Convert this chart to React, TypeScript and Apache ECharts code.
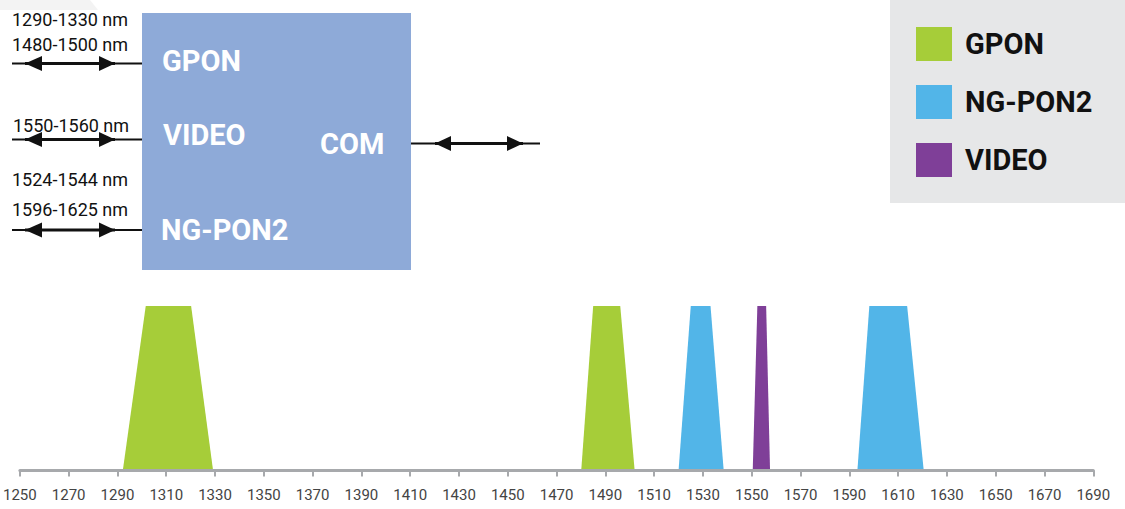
import React, { useEffect, useRef } from "react";
import * as echarts from "echarts";

// ---- data ----
const axisMin = 1250;
const axisMax = 1690;
const axisStep = 20;
// each band: [bottom-left, top-left, top-right, bottom-right] wavelength in nm
const gponBands = [
  [1292.2, 1301.6, 1320.2, 1329.2],
  [1480.1, 1485.0, 1496.1, 1502.0],
];
const ngpon2Bands = [
  [1520.0, 1525.0, 1533.1, 1538.5],
  [1593.3, 1598.2, 1613.7, 1620.5],
];
const videoBands = [[1550.4, 1552.3, 1555.9, 1557.5]];
const seriesNames = ["GPON", "NG-PON2", "VIDEO"];
const seriesColors = ["#a6cd39", "#52b5e8", "#7f3f98"];
const boxLabels = ["GPON", "VIDEO", "COM", "NG-PON2"];
const rangeLabels = ["1290-1330 nm", "1480-1500 nm", "1550-1560 nm", "1524-1544 nm", "1596-1625 nm"];

const renderBand = (params: any, api: any) => {
  const pts = [
    api.coord([api.value(0), 0]),
    api.coord([api.value(1), 1]),
    api.coord([api.value(2), 1]),
    api.coord([api.value(3), 0]),
  ];
  return {
    type: "polygon",
    shape: { points: pts },
    style: { fill: api.visual("color") },
  };
};

function arrowGroup(x0: number, x1: number, y: number, lt: number, lb: number, rb: number, rt: number) {
  const h = 7.5;
  return [
    { type: "line", shape: { x1: x0, y1: y, x2: x1, y2: y }, style: { stroke: "#111", lineWidth: 2 } },
    { type: "line", shape: { x1: lt, y1: y, x2: rt, y2: y }, style: { stroke: "#111", lineWidth: 3 } },
    { type: "polygon", shape: { points: [[lt, y], [lb, y - h], [lb, y + h]] }, style: { fill: "#111" } },
    { type: "polygon", shape: { points: [[rt, y], [rb, y - h], [rb, y + h]] }, style: { fill: "#111" } },
  ];
}

export default function App() {
  const ref = useRef<HTMLDivElement>(null);
  useEffect(() => {
    if (!ref.current) return;
    const chart = echarts.init(ref.current, null, { renderer: "svg" });
    const bandSets = [gponBands, ngpon2Bands, videoBands];
    const boxText = (text: string, x: number, y: number) => ({
      type: "text",
      x,
      y,
      style: {
        text,
        fill: "#ffffff",
        font: "bold 29px Roboto",
        textVerticalAlign: "middle",
      },
    });
    const rangeText = (text: string, x: number, y: number) => ({
      type: "text",
      x,
      y,
      style: {
        text,
        fill: "#111111",
        font: "18px Roboto",
        textVerticalAlign: "middle",
      },
    });
    chart.setOption({
      animation: false,
      grid: { left: 17.3, right: 31.7, top: 306, bottom: 38.5 },
      xAxis: {
        type: "value",
        min: axisMin,
        max: axisMax,
        interval: axisStep,
        z: 5,
        axisLine: { show: true, lineStyle: { color: "#a7a9ac", width: 3 } },
        axisTick: { show: true, length: 6, lineStyle: { color: "#a7a9ac", width: 2 } },
        splitLine: { show: false },
        axisLabel: {
          color: "#444444",
          fontSize: 15,
          fontFamily: "'Liberation Sans Narrow', Roboto",
          margin: 17,
          formatter: (v: number) => String(v),
        },
      },
      yAxis: { type: "value", min: 0, max: 1, show: false },
      legend: {
        orient: "vertical",
        left: 916,
        top: 27,
        padding: 0,
        itemWidth: 36,
        itemHeight: 34,
        itemGap: 24,
        icon: "rect",
        data: seriesNames,
        selectedMode: false,
        textStyle: {
          fontSize: 29,
          fontWeight: "bold",
          fontFamily: "Roboto",
          color: "#111111",
          padding: [0, 0, 0, 8],
        },
      },
      graphic: [
        { type: "polygon", z: -10, shape: { points: [[0, 0], [90, 0], [98, 10], [0, 10]] }, style: { fill: "#f3f3f3" } },
        { type: "rect", z: -10, shape: { x: 890, y: 0, width: 235, height: 203 }, style: { fill: "#e6e7e8" } },
        { type: "rect", shape: { x: 142, y: 13, width: 269, height: 257 }, style: { fill: "#8eaad8" } },
        boxText(boxLabels[0], 162, 61),
        boxText(boxLabels[1], 163, 135),
        boxText(boxLabels[2], 320, 144),
        boxText(boxLabels[3], 161, 230),
        rangeText(rangeLabels[0], 12, 19),
        rangeText(rangeLabels[1], 12, 44.5),
        rangeText(rangeLabels[2], 13, 125),
        rangeText(rangeLabels[3], 12, 179),
        rangeText(rangeLabels[4], 12, 209),
        ...arrowGroup(12, 142, 63.5, 25, 42, 99, 115),
        ...arrowGroup(12, 142, 139.5, 25, 42, 99, 115),
        ...arrowGroup(12, 142, 230, 25, 42, 99, 115),
        ...arrowGroup(411, 540, 143.5, 435, 451, 507, 523),
      ],
      series: seriesNames.map((name, i) => ({
        type: "custom",
        name,
        z: 1,
        itemStyle: { color: seriesColors[i] },
        renderItem: renderBand,
        encode: { x: [0, 1, 2, 3] },
        data: bandSets[i],
      })),
    });
    return () => chart.dispose();
  }, []);
  return (
    <div
      ref={ref}
      style={{ position: "absolute", left: 0, top: 0, width: 1125, height: 509 }}
    />
  );
}
